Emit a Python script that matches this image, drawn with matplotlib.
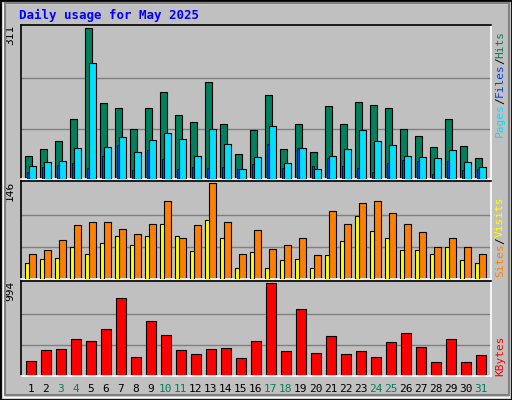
import matplotlib
matplotlib.use("Agg")
import matplotlib.pyplot as plt
import numpy as np
from matplotlib.patches import Rectangle

days = list(range(1, 32))
weekend = [3, 4, 10, 11, 17, 18, 24, 25, 31]
hits = [47,62,79,123,311,157,146,102,146,180,132,117,199,113,51,100,173,62,113,56,151,113,159,152,146,104,89,66,123,68,43]
files = [26,34,37,64,239,66,87,56,81,94,83,47,102,72,20,45,110,32,64,20,47,62,100,79,70,47,45,43,60,34,24]
pages = [15,24,28,32,22,47,70,18,60,41,20,24,22,24,20,30,72,22,64,26,43,26,22,15,32,39,37,11,37,18,20]
visits = [38,44,60,82,87,87,76,68,84,119,63,82,146,87,38,74,46,52,62,36,103,84,116,119,101,84,71,48,63,49,38]
sites = [24,30,32,49,38,54,65,52,65,84,65,43,90,63,17,41,16,29,30,17,37,57,95,73,63,44,44,38,49,29,24]
kbytes = [156,276,287,395,374,504,831,200,591,439,276,232,287,297,189,374,994,265,711,243,428,232,265,200,363,461,308,145,395,145,221]

BG = "#c0c0c0"
W, H = 512, 400
fig = plt.figure(figsize=(5.12, 4.0), dpi=100, facecolor=BG)
mono = "DejaVu Sans Mono"

# outer border
fig.patches.append(Rectangle((0, 0), 1, 1, transform=fig.transFigure, fill=False, ec="black", lw=2))
fig.patches.append(Rectangle((3/W, 3/H), 1-6/W, 1-6/H, transform=fig.transFigure, fill=False, ec="white", lw=1))
fig.patches.append(Rectangle((5/W, 5/H), 1-8/W, 1-8/H, transform=fig.transFigure, fill=False, ec="#808080", lw=1.5))

fig.text(19/W, 1-15/H, "Daily usage for May 2025", color="#0000ff", family=mono,
         weight="bold", fontsize=9, va="center", ha="left")

left, right = 20.5, 491
x = np.arange(31)

def mkax(top, bot, vmax):
    ax = fig.add_axes([left/W, 1-bot/H, (right-left)/W, (bot-top)/H])
    ax.set_facecolor(BG)
    ax.set_xlim(0, 31.4)
    ax.set_ylim(0, vmax*1.02)
    for s in ax.spines.values():
        s.set_linewidth(1.2)
    ax.spines["top"].set_color("black"); ax.spines["left"].set_color("black")
    ax.spines["bottom"].set_color("white"); ax.spines["right"].set_color("white")
    ax.set_xticks([]); ax.set_yticks([])
    for g in (vmax/3, 2*vmax/3):
        ax.axhline(g, color="#808080", lw=1, zorder=0)
    ax.text(-0.012, 1.0, str(vmax), transform=ax.transAxes, rotation=90, ha="right",
            va="top", family=mono, fontsize=8)
    return ax

ax1 = mkax(25, 179, 311)
ax1.bar(x+0.31, hits, width=0.49, align="edge", color="#00805c", ec="black", lw=0.8, zorder=2)
ax1.bar(x+0.57, files, width=0.49, align="edge", color="#00e0ff", ec="black", lw=0.8, zorder=3)
ax1.bar(x+0.44, pages, width=0.13, align="edge", color="#0040ff", ec="black", lw=0.5, zorder=4)

ax2 = mkax(181, 279, 146)
ax2.bar(x+0.31, sites, width=0.26, align="edge", color="#ffff00", ec="black", lw=0.8, zorder=3)
ax2.bar(x+0.57, visits, width=0.49, align="edge", color="#ff8000", ec="black", lw=0.8, zorder=2)

ax3 = mkax(281, 376, 994)
ax3.bar(x+0.37, kbytes, width=0.67, align="edge", color="#ff0000", ec="black", lw=0.8, zorder=2)

for i, d in enumerate(days):
    xp = (left + (i + 0.7) * (right-left)/31.4) / W
    fig.text(xp, 1-389/H, str(d), ha="center", va="center", family=mono, fontsize=8,
             color="#00805c" if d in weekend else "black")

def rlabel(y0, parts):
    y = 1 - y0/H
    for txt, col in parts:
        t = fig.text(500/W, y, txt, rotation=90, ha="center", va="top", family=mono,
                     fontsize=8, color=col)
        y -= len(txt) * 7.0 / H

rlabel(28, [("Hits", "#00805c"), ("/", "black"), ("Files", "#0040ff"), ("/", "black"), ("Pages", "#00e0ff")][::-1][::-1])
fig.texts = fig.texts[:-5]
def rlabel_up(ybot, parts):
    y = 1 - ybot/H
    for txt, col in parts:
        fig.text(500/W, y, txt, rotation=90, ha="center", va="bottom", family=mono,
                 fontsize=8, color=col)
        y += len(txt) * 6.6 / H
rlabel_up(137, [("Pages", "#00e0ff"), ("/", "black"), ("Files", "#0040ff"), ("/", "black"), ("Hits", "#00805c")])
rlabel_up(277, [("Sites", "#ff8000"), ("/", "black"), ("Visits", "#ffff00")])
rlabel_up(376, [("KBytes", "#ff0000")])

fig.savefig("out.png", dpi=100, facecolor=BG)
